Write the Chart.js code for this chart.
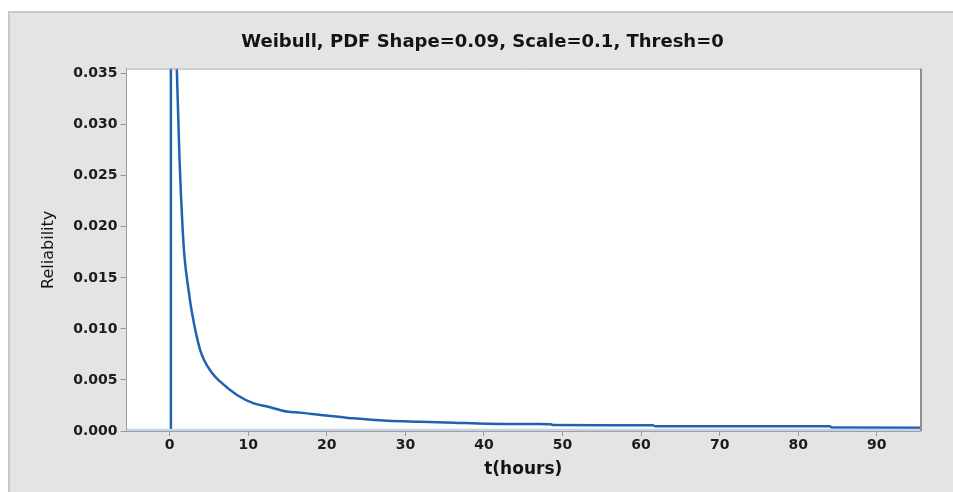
<!DOCTYPE html>
<html>
<head>
<meta charset="utf-8">
<script src="https://cdn.jsdelivr.net/npm/chart.js@4.4.1/dist/chart.umd.min.js"></script>
<style>
  html, body { margin: 0; padding: 0; background: #ffffff; }
  #wrap { width: 953px; height: 492px; }
</style>
</head>
<body>
<div id="wrap"><canvas id="pdfChart" width="953" height="492"></canvas></div>
<script>
// valores (t em horas, densidade)
const curveT = [0.15, 0.15, 0.5, 0.9, 1.25, 1.63, 1.89, 2.4, 2.83, 3.89, 5.37, 6.43, 8.56, 10.7, 12.4, 14.9, 16.6, 19.2, 22.1, 23.4, 27.7, 31.9, 36.2, 40.4, 46.8, 48.5, 48.8, 61.5, 61.8, 84.0, 84.3, 95.5];
const curveVal = [0, 0.040, null, 0.0356, 0.0266, 0.0200, 0.0170, 0.0138, 0.0116, 0.0079, 0.0057, 0.00483, 0.00353, 0.00271, 0.0024, 0.0019, 0.0018, 0.00157, 0.00134, 0.00124, 0.00101, 0.00091, 0.00081, 0.00071, 0.00068, 0.00067, 0.00058, 0.00056, 0.00047, 0.00046, 0.00034, 0.00031];

// linha de base em zero
const baseT = [-5.5, 95.5];
const baseVal = [0, 0];

const xTicks = [0, 10, 20, 30, 40, 50, 60, 70, 80, 90];
const yTicks = [0, 0.005, 0.010, 0.015, 0.020, 0.025, 0.030, 0.035];

const titleText = "Weibull, PDF Shape=0.09, Scale=0.1, Thresh=0";

function toPoints(xs, ys) {
  return xs.map((x, i) => ({ x: x, y: ys[i] }));
}

// fundo cinzento e moldura da área do gráfico
const frame = {
  id: "frame",
  beforeDraw(chart) {
    const ctx = chart.ctx;
    const a = chart.chartArea;
    ctx.save();
    ctx.fillStyle = "#ffffff";
    ctx.fillRect(0, 0, chart.width, chart.height);
    ctx.fillStyle = "#e4e4e4";
    ctx.fillRect(8, 11, chart.width - 8, chart.height - 11);
    ctx.strokeStyle = "#c8c8c8";
    ctx.lineWidth = 2;
    ctx.beginPath();
    ctx.moveTo(9, chart.height);
    ctx.lineTo(9, 12);
    ctx.lineTo(chart.width, 12);
    ctx.stroke();
    ctx.fillStyle = "#ffffff";
    ctx.fillRect(a.left, a.top, a.right - a.left, a.bottom - a.top);
    ctx.restore();
  },
  afterDraw(chart) {
    const ctx = chart.ctx;
    const a = chart.chartArea;
    ctx.save();
    ctx.strokeStyle = "#a8a8a8";
    ctx.lineWidth = 1;
    ctx.beginPath();
    ctx.moveTo(a.left, a.top + 0.5);
    ctx.lineTo(a.right, a.top + 0.5);
    ctx.stroke();
    ctx.strokeStyle = "#909090";
    ctx.lineWidth = 2;
    ctx.beginPath();
    ctx.moveTo(a.right + 1, a.top);
    ctx.lineTo(a.right + 1, a.bottom);
    ctx.stroke();
    ctx.restore();
  }
};

const tickFont = { family: "DejaVu Sans", size: 14, weight: "bold" };

new Chart(document.getElementById("pdfChart"), {
  type: "line",
  data: {
    datasets: [
      {
        label: "base",
        data: toPoints(baseT, baseVal),
        borderColor: "#c3d4ea",
        borderWidth: 4.5,
        pointRadius: 0
      },
      {
        label: "PDF",
        data: toPoints(curveT, curveVal),
        borderColor: "#1f62b0",
        borderWidth: 2.5,
        pointRadius: 0,
        spanGaps: false,
        cubicInterpolationMode: "monotone",
        clip: { left: 2, top: 0, right: 0, bottom: 2 }
      }
    ]
  },
  plugins: [frame],
  options: {
    responsive: false,
    animation: false,
    layout: { padding: { left: 12, right: 0, top: 0, bottom: 0 } },
    plugins: {
      legend: { display: false },
      tooltip: { enabled: false },
      title: {
        display: true,
        text: titleText,
        color: "#141414",
        font: { family: "DejaVu Sans", size: 18, weight: "bold", lineHeight: 1.2 },
        padding: { top: 32, bottom: 15 }
      }
    },
    scales: {
      x: {
        type: "linear",
        min: -5.5,
        max: 95.5,
        z: 1,
        afterBuildTicks: s => { s.ticks = xTicks.map(v => ({ value: v })); },
        afterFit: s => { s.height = 61; },
        grid: { drawOnChartArea: false, tickLength: 5, color: "#9a9a9a" },
        border: { color: "#a0a0a0", width: 1 },
        ticks: { font: tickFont, color: "#1c1c1c", padding: 1, maxRotation: 0 },
        title: {
          display: true,
          text: "t(hours)",
          color: "#141414",
          font: { family: "DejaVu Sans", size: 17, weight: "bold", lineHeight: 1.2 },
          padding: { top: 0, bottom: 12 }
        }
      },
      y: {
        min: 0,
        max: 0.0355,
        z: 1,
        afterBuildTicks: s => { s.ticks = yTicks.map(v => ({ value: v })); },
        afterFit: s => { s.width = 114.5; },
        grid: { drawOnChartArea: false, tickLength: 6, color: "#9a9a9a" },
        border: { color: "#a0a0a0", width: 1 },
        ticks: {
          font: tickFont,
          color: "#1c1c1c",
          padding: 3,
          callback: v => v.toFixed(3)
        },
        title: {
          display: true,
          text: "Reliability",
          color: "#141414",
          font: { family: "DejaVu Sans", size: 16, weight: "normal", lineHeight: 1.2 },
          padding: { top: 27, bottom: 0 }
        }
      },
      // eixo vazio à direita, só para reservar a margem
      yRight: {
        position: "right",
        min: 0,
        max: 1,
        grid: { display: false },
        border: { display: false },
        ticks: { display: false },
        afterFit: s => { s.width = 33; }
      }
    }
  }
});
</script>
</body>
</html>
